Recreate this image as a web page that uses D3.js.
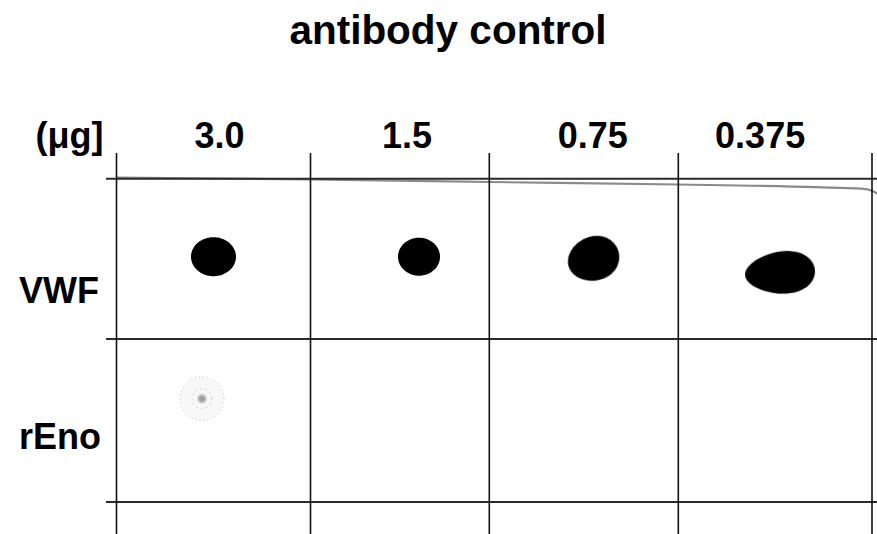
<!DOCTYPE html>
<html><head><meta charset="utf-8">
<script src="https://cdn.jsdelivr.net/npm/d3@7"></script>
<style>html,body{margin:0;padding:0;background:#fff}svg{display:block}</style>
</head><body>
<svg id="c" width="877" height="534"></svg>
<script>
// ---- data ----
const title = "antibody control";
const unitLabel = "(μg]";
const doses = ["3.0", "1.5", "0.75", "0.375"];          // µg per lane
const targets = ["VWF", "rEno"];                         // rows
// lane boundaries on the membrane (mm)
const laneEdges = [0, 19.4, 37.28, 56.18, 75.55];
const rowEdges = [0, 16.03, 32.33];
// spot measurements on the membrane (mm)
const vwfCenterX = [9.7, 30.25, 47.7, 66.35];
const vwfCenterY = [7.8, 7.8, 8.0, 9.4];
const vwfWidth = [4.5, 4.2, 5.2, 7.0];
const vwfHeight = [3.9, 3.8, 4.4, 4.2];
const vwfTilt = [0, 0, -18, -4];          // degrees
const vwfIntensity = [1, 1, 1, 1];
const renoCenterX = [8.55, 28.0, 47.0, 66.0];
const renoCenterY = [22.0, 22.0, 22.0, 22.0];
const renoDiameter = [4.4, 0, 0, 0];
const renoIntensity = [0.18, 0, 0, 0];
// membrane top edge profile (mm from top line)
const edgeX = [0, 19.4, 37.3, 56.2, 70, 74.5, 75.55, 76.1];
const edgeY = [-0.12, 0.08, 0.33, 0.58, 0.85, 1.0, 1.2, 1.5];

// ---- layout ----
const svg = d3.select("#c");
const x = d3.scaleLinear().domain([0, 75.55]).range([116.5, 872]);
const y = d3.scaleLinear().domain([0, 32.33]).range([178.7, 502]);
const k = x(1) - x(0);

svg.append("text").attr("x", 448).attr("y", 44).attr("text-anchor", "middle")
  .attr("font-family", "Liberation Sans, Arial, sans-serif").attr("font-weight", "bold")
  .attr("font-size", 40.5).text(title);

const lbl = (t, xx, yy, anchor) => svg.append("text").attr("x", xx).attr("y", yy)
  .attr("text-anchor", anchor).attr("font-family", "Liberation Sans, Arial, sans-serif")
  .attr("font-weight", "bold").attr("font-size", 36).attr("fill", "#000").text(t);

lbl(unitLabel, 35.5, 148, "start");
const labelNudge = [6, 7, 9, -15];
doses.forEach((d, i) => {
  const cx = (x(laneEdges[i]) + x(laneEdges[i + 1])) / 2 + labelNudge[i];
  lbl(d, cx, 148, "middle");
});
const rowBase = [303, 449];
targets.forEach((t, i) => lbl(t, 19, rowBase[i], "start"));

// blur filter for soft spot edges
const defs = svg.append("defs");
defs.append("filter").attr("id", "soft").append("feGaussianBlur").attr("stdDeviation", 0.7);
defs.append("filter").attr("id", "faint").append("feGaussianBlur").attr("stdDeviation", 1.2);

// membrane edge (grey)
svg.append("path")
  .datum(edgeX.map((v, i) => [v, edgeY[i]]))
  .attr("d", d3.line().x(d => x(d[0])).y(d => y(d[1])).curve(d3.curveMonotoneX))
  .attr("fill", "none").attr("stroke", "#8a8a8a").attr("stroke-width", 2.2);

// grid
rowEdges.forEach(r => {
  svg.append("line").attr("x1", 106).attr("x2", 877).attr("y1", y(r)).attr("y2", y(r))
    .attr("stroke", "#2a2a2a").attr("stroke-width", 2);
});
laneEdges.forEach(l => {
  svg.append("line").attr("x1", x(l)).attr("x2", x(l)).attr("y1", 153).attr("y2", 534)
    .attr("stroke", "#111").attr("stroke-width", 1.6);
});

// egg shaped spot path generator
function spotPath(w, h, egg) {
  const a = w / 2 * k, b = h / 2 * k, pts = [];
  for (let t = 0; t < Math.PI * 2; t += 0.05) {
    const c = Math.cos(t), s = Math.sin(t);
    pts.push([a * c, b * s * (1 + egg * c)]);
  }
  return d3.line().curve(d3.curveCardinalClosed)(pts);
}
const eggFactor = [0, 0, 0.06, 0.16];
const spots = svg.append("g").attr("filter", "url(#soft)");
doses.forEach((d, i) => {
  spots.append("path")
    .attr("d", spotPath(vwfWidth[i], vwfHeight[i], eggFactor[i]))
    .attr("transform", `translate(${x(vwfCenterX[i])},${y(vwfCenterY[i])}) rotate(${vwfTilt[i]})`)
    .attr("fill", d3.interpolateGreys(vwfIntensity[i]));
});

// faint rEno signal
doses.forEach((d, i) => {
  if (renoDiameter[i] <= 0) return;
  const g = svg.append("g").attr("transform", `translate(${x(renoCenterX[i])},${y(renoCenterY[i])})`);
  const r = renoDiameter[i] / 2 * k;
  g.append("circle").attr("r", r).attr("fill", "#000").attr("fill-opacity", renoIntensity[i] * 0.15)
    .attr("stroke", "#999").attr("stroke-width", 1).attr("stroke-dasharray", "1 3").attr("stroke-opacity", 0.6);
  g.append("circle").attr("r", r * 0.45).attr("fill", "none")
    .attr("stroke", "#aaa").attr("stroke-width", 1).attr("stroke-dasharray", "1 4");
  g.append("circle").attr("r", r * 0.18).attr("fill", "#777").attr("fill-opacity", 0.7).attr("filter", "url(#faint)");
});
</script>
</body></html>
